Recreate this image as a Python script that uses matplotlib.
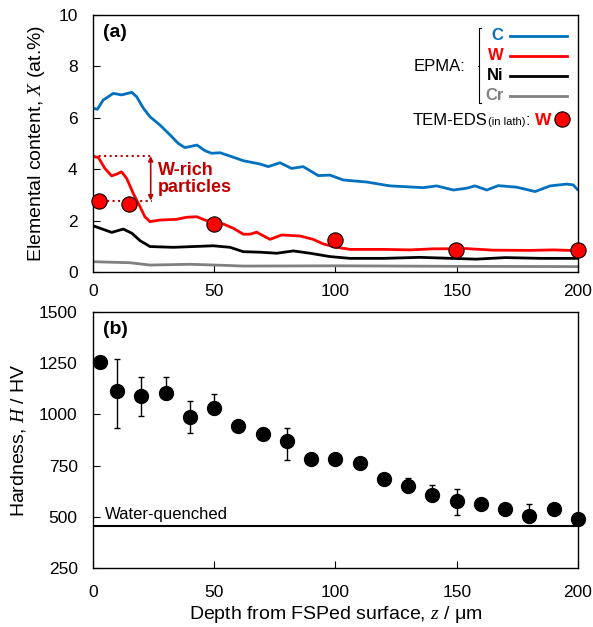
import matplotlib
matplotlib.use("Agg")
import matplotlib.pyplot as plt

plt.rcParams['font.family'] = ['Liberation Sans', 'DejaVu Sans']
plt.rcParams['mathtext.fontset'] = 'custom'
plt.rcParams['mathtext.it'] = 'Liberation Serif:italic'
plt.rcParams['mathtext.rm'] = 'Liberation Sans'

# EPMA profiles (depth in um, content in at.%)
c_x = [0, 1.8, 4.2, 8.4, 11.8, 16.0, 18.0, 20.8, 23.5, 27.6, 31.8, 35.2, 37.9, 40, 42.8,
       46.2, 48.9, 52.4, 56.5, 62, 68.9, 72.3, 77.1, 81.9, 86.7, 92.9, 97.7, 103.2, 112.9,
       122.5, 130.7, 136.2, 141.7, 148.6, 154.1, 157.5, 162.4, 167.1, 174.7, 182.3, 188.5,
       195.3, 198, 200]
c_y = [6.37, 6.33, 6.69, 6.95, 6.89, 6.99, 6.82, 6.37, 6.04, 5.72, 5.33, 5.00, 4.84, 4.88,
       4.94, 4.72, 4.62, 4.64, 4.51, 4.33, 4.20, 4.10, 4.25, 4.03, 4.10, 3.75, 3.77, 3.58,
       3.50, 3.35, 3.31, 3.28, 3.35, 3.19, 3.26, 3.35, 3.19, 3.36, 3.30, 3.13, 3.35, 3.42,
       3.39, 3.19]

w_x = [0, 2.2, 4.9, 7.7, 9.8, 11.8, 13.9, 16.6, 19.4, 21.4, 23.5, 27.6, 34.5, 38.6, 42.8,
       46.2, 49, 53.7, 57.9, 62, 64.7, 67.5, 69.6, 73, 77.8, 85.4, 90.8, 95, 100.5, 106,
       119.7, 130.7, 140, 154, 165, 180, 190, 200]
w_y = [4.49, 4.46, 4.03, 3.74, 3.81, 3.90, 3.64, 3.06, 2.54, 2.15, 1.96, 2.02, 2.05, 2.13,
       2.15, 2.02, 1.95, 1.87, 1.70, 1.47, 1.47, 1.55, 1.44, 1.27, 1.44, 1.40, 1.27, 1.09,
       0.96, 0.88, 0.88, 0.86, 0.90, 0.91, 0.85, 0.84, 0.86, 0.83]

ni_x = [0, 4.2, 7.7, 12.5, 16, 19.4, 23.5, 33.1, 49.6, 56.5, 62, 68.9, 75.8, 82.6, 89.5,
        97.7, 106, 119.7, 134.8, 148, 158, 170, 185, 200]
ni_y = [1.80, 1.66, 1.54, 1.67, 1.51, 1.22, 0.99, 0.96, 1.02, 0.96, 0.79, 0.77, 0.73, 0.82,
        0.73, 0.60, 0.53, 0.53, 0.57, 0.53, 0.50, 0.56, 0.53, 0.53]

cr_x = [0, 15.3, 23.5, 40, 53.7, 62, 100, 150, 200]
cr_y = [0.40, 0.36, 0.27, 0.30, 0.26, 0.23, 0.24, 0.22, 0.21]

# TEM-EDS W in lath
tem_x = [2.3, 14.9, 50, 99.8, 149.8, 200]
tem_y = [2.77, 2.63, 1.85, 1.26, 0.87, 0.87]

# hardness
hv_x = [3, 10, 20, 30, 40, 50, 60, 70, 80, 90, 100, 110, 120, 130, 140, 150, 160, 170, 180,
        190, 200]
hv_y = [1257, 1114, 1091, 1103, 986, 1030, 943, 903, 870, 784, 784, 761, 686, 650, 608, 579,
        562, 537, 506, 540, 491]
hv_err_lo = [0, 182, 97, 30, 75, 30, 0, 0, 94, 0, 0, 0, 0, 0, 0, 70, 0, 0, 30, 0, 0]
hv_err_hi = [0, 156, 90, 78, 79, 71, 0, 0, 62, 0, 0, 0, 0, 40, 47, 58, 0, 0, 55, 0, 15]
water_quenched = 455

blue = '#0070C0'
red = '#FF0000'
darkred = '#C00000'
gray = '#808080'

fig = plt.figure(figsize=(5.93, 6.27), dpi=100)
ax1 = fig.add_axes([0.1568, 0.5662, 0.8179, 0.4099])
ax2 = fig.add_axes([0.1568, 0.0941, 0.8179, 0.4083])

for ax in (ax1, ax2):
    ax.set_xlim(0, 200)
    ax.set_xticks([0, 50, 100, 150, 200])
    ax.tick_params(direction='in', length=5, labelsize=12.5, top=False, right=False)
    ax.tick_params(axis='y', pad=11)
    for s in ax.spines.values():
        s.set_linewidth(1.0)
ax1.tick_params(axis='x', pad=9)
ax2.tick_params(axis='x', pad=12)

# panel (a)
ax1.set_ylim(0, 10)
ax1.set_yticks([0, 2, 4, 6, 8, 10])
line_kw = dict(lw=2, solid_joinstyle='round', solid_capstyle='round')
ax1.plot(cr_x, cr_y, color=gray, **line_kw)
ax1.plot(ni_x, ni_y, color='black', **line_kw)
ax1.plot(w_x, w_y, color=red, **line_kw)
ax1.plot(c_x, c_y, color=blue, **line_kw)
ax1.plot(tem_x, tem_y, 'o', ms=11, mfc=red, mec='black', mew=0.8, clip_on=False, zorder=5)
ax1.set_ylabel('Elemental content, $X$ (at.%)', fontsize=14, labelpad=8)
ax1.text(0.02, 0.93, '(a)', transform=ax1.transAxes, fontsize=14, fontweight='bold',
         va='center')

# W-rich annotation
ax1.plot([0, 24.2], [4.51, 4.51], ':', color=darkred, lw=1.5)
ax1.plot([5.6, 24.2], [2.78, 2.78], ':', color=darkred, lw=1.5)
ax1.annotate('', xy=(23.8, 4.51), xytext=(23.8, 2.78),
             arrowprops=dict(arrowstyle='<|-|>', color=darkred, lw=1.2,
                             mutation_scale=7, shrinkA=0, shrinkB=0))
ax1.text(26.7, 3.62, 'W-rich\nparticles', color=darkred, fontsize=13, fontweight='bold',
         va='center', ha='left', linespacing=1.0)

# legend drawn by hand
leg_names = ['C', 'W', 'Ni', 'Cr']
leg_colors = [blue, red, 'black', gray]
leg_y = [9.2, 8.41, 7.63, 6.85]
for name, col, yy in zip(leg_names, leg_colors, leg_y):
    ax1.text(169.3, yy, name, color=col, fontsize=12, fontweight='bold', ha='right',
             va='center')
    ax1.plot([171.8, 195.4], [yy, yy], color=col, lw=2)
ax1.plot([160.2, 159.2, 159.2, 160.2], [9.49, 9.49, 6.57, 6.57], color='black', lw=0.8)
ax1.plot([158.6, 159.2], [8.0, 8.0], color='black', lw=0.8)
ax1.text(153.5, 8.0, 'EPMA:', fontsize=12, ha='right', va='center')
tem_base = 5.72
ax1.text(132, tem_base, 'TEM-EDS', fontsize=12, ha='left', va='baseline')
ax1.text(162.7, tem_base, '(in lath)', fontsize=8, ha='left', va='baseline')
ax1.text(178.5, tem_base, ':', fontsize=12, ha='left', va='baseline')
ax1.text(182.4, tem_base, 'W', color=red, fontsize=12.5, fontweight='bold', ha='left',
         va='baseline')
ax1.plot([193.6], [5.96], 'o', ms=11, mfc=red, mec='black', mew=0.8)

# panel (b)
ax2.set_ylim(250, 1500)
ax2.set_yticks([250, 500, 750, 1000, 1250, 1500])
ax2.axhline(water_quenched, color='black', lw=1.5)
ax2.text(5, 510, 'Water-quenched', fontsize=12, va='center', ha='left')
ax2.errorbar(hv_x, hv_y, yerr=[hv_err_lo, hv_err_hi], fmt='o', ms=10, color='black',
             ecolor='black', elinewidth=1, capsize=2.5, capthick=1, clip_on=False,
             zorder=5)
ax2.set_ylabel('Hardness, $H$ / HV', fontsize=14, labelpad=8)
ax2.set_xlabel('Depth from FSPed surface, $z$ / \u03bcm', fontsize=14, labelpad=3)
ax2.text(0.02, 0.93, '(b)', transform=ax2.transAxes, fontsize=14, fontweight='bold',
         va='center')

fig.savefig('out.png', dpi=100)
